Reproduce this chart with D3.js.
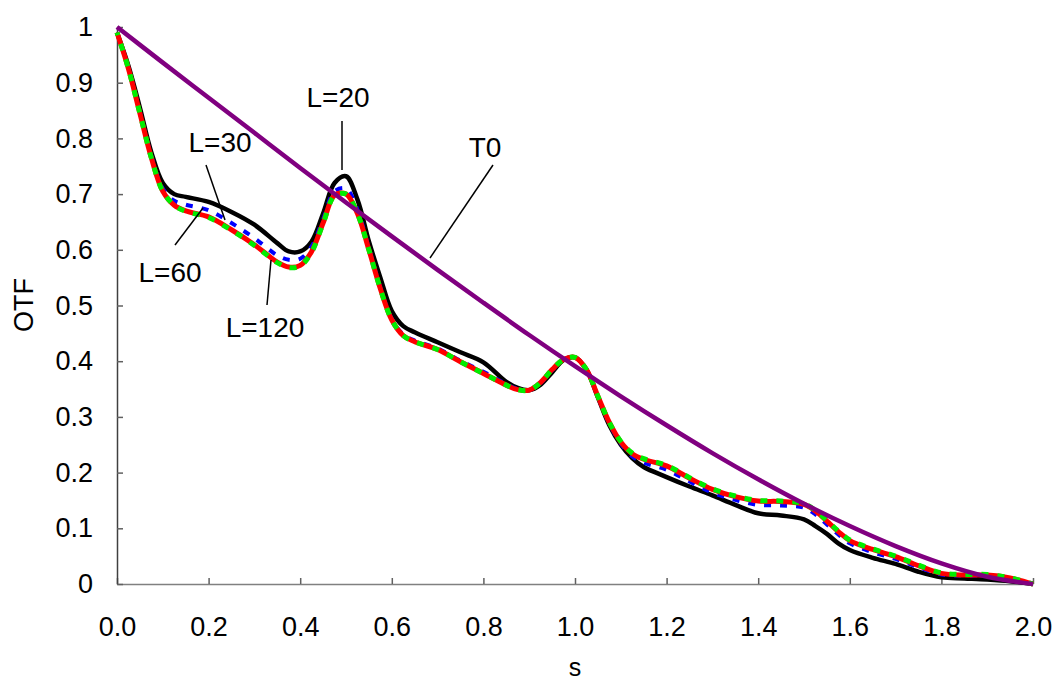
<!DOCTYPE html>
<html><head><meta charset="utf-8">
<script src="https://cdn.jsdelivr.net/npm/d3@7"></script>
<style>body{margin:0;background:#fff}svg{display:block}</style>
</head><body>
<svg id="c" width="1055" height="684"></svg>
<script>
const sVals = [0,0.025,0.05,0.075,0.1,0.125,0.15,0.2,0.25,0.3,0.35,0.375,0.4,0.425,0.45,0.475,0.5,0.525,0.55,0.575,0.6,0.625,0.65,0.7,0.75,0.8,0.85,0.875,0.9,0.925,0.95,0.975,1.0,1.025,1.05,1.075,1.1,1.125,1.15,1.2,1.25,1.3,1.35,1.4,1.45,1.5,1.525,1.55,1.575,1.6,1.65,1.7,1.75,1.8,1.85,1.9,1.95,2.0];
const L20 = [0.99,0.93,0.855,0.775,0.72,0.70,0.695,0.686,0.668,0.645,0.612,0.597,0.597,0.615,0.665,0.72,0.732,0.69,0.615,0.55,0.49,0.463,0.452,0.434,0.416,0.398,0.363,0.352,0.348,0.358,0.38,0.402,0.407,0.385,0.335,0.285,0.25,0.226,0.21,0.192,0.175,0.159,0.142,0.127,0.123,0.116,0.104,0.09,0.073,0.061,0.047,0.036,0.022,0.012,0.010,0.008,0.005,0.0];
const L30 = [0.99,0.926,0.847,0.768,0.71,0.688,0.681,0.671,0.648,0.621,0.59,0.582,0.584,0.606,0.655,0.705,0.71,0.672,0.603,0.532,0.476,0.448,0.437,0.423,0.401,0.381,0.359,0.35,0.348,0.361,0.384,0.403,0.407,0.385,0.336,0.288,0.252,0.229,0.218,0.205,0.184,0.164,0.151,0.142,0.141,0.137,0.125,0.107,0.089,0.073,0.057,0.045,0.03,0.017,0.015,0.015,0.01,0.0];
const L60 = [0.99,0.925,0.845,0.765,0.705,0.68,0.67,0.659,0.636,0.609,0.578,0.569,0.572,0.597,0.648,0.698,0.70,0.665,0.60,0.53,0.474,0.446,0.435,0.421,0.399,0.378,0.357,0.349,0.348,0.362,0.385,0.403,0.407,0.385,0.337,0.29,0.255,0.234,0.224,0.212,0.19,0.17,0.157,0.149,0.148,0.143,0.131,0.113,0.094,0.078,0.062,0.049,0.033,0.019,0.016,0.016,0.011,0.0];
const L120 = [0.99,0.925,0.845,0.765,0.705,0.68,0.669,0.658,0.635,0.608,0.577,0.568,0.571,0.596,0.647,0.697,0.70,0.665,0.60,0.53,0.474,0.446,0.435,0.421,0.399,0.378,0.357,0.349,0.348,0.362,0.385,0.403,0.407,0.385,0.337,0.29,0.256,0.235,0.225,0.213,0.191,0.171,0.158,0.15,0.149,0.144,0.132,0.114,0.095,0.079,0.063,0.05,0.034,0.02,0.017,0.017,0.011,0.0];
const t0S = [0,0.1,0.2,0.3,0.4,0.5,0.6,0.7,0.8,0.9,1.0,1.1,1.2,1.3,1.4,1.5,1.6,1.7,1.8,1.9,2.0];
const T0 = [1.0,0.936,0.873,0.810,0.747,0.685,0.624,0.564,0.505,0.447,0.391,0.337,0.285,0.235,0.188,0.144,0.104,0.068,0.037,0.013,0.0];
const xTicks = [0,0.2,0.4,0.6,0.8,1.0,1.2,1.4,1.6,1.8,2.0];
const yTicks = [0,0.1,0.2,0.3,0.4,0.5,0.6,0.7,0.8,0.9,1];

const svg = d3.select("#c");
const x = d3.scaleLinear().domain([0,2]).range([117,1033]);
const y = d3.scaleLinear().domain([0,1]).range([584,27]);
const font = "'Liberation Sans', Arial, sans-serif";

// axes
const gx = svg.append("g").attr("transform","translate(0,584)")
  .call(d3.axisBottom(x).tickValues(xTicks).tickSizeInner(-6).tickSizeOuter(0).tickPadding(0).tickFormat(d3.format(".1f")));
const gy = svg.append("g").attr("transform","translate(117,0)")
  .call(d3.axisLeft(y).tickValues(yTicks).tickSizeInner(-6).tickSizeOuter(0).tickPadding(24).tickFormat(d => d===0||d===1? String(d) : d3.format(".1f")(d)));
gx.select(".domain").attr("stroke","#808080").attr("stroke-width",1.5);
gy.select(".domain").attr("stroke","#404040").attr("stroke-width",1.5);
[gx,gy].forEach(g=>{
  g.selectAll(".tick line").attr("stroke","#606060").attr("stroke-width",1.5);
  g.selectAll("text").attr("font-family",font).attr("font-size",27).attr("fill","#000");
});
gx.selectAll("text").attr("y",52).attr("dy",null);
gy.selectAll("text").attr("dy","0.32em");

svg.append("text").attr("x",575).attr("y",676).attr("text-anchor","middle")
  .attr("font-family",font).attr("font-size",25).text("s");
svg.append("text").attr("transform","translate(33,305) rotate(-90)").attr("text-anchor","middle")
  .attr("font-family",font).attr("font-size",27).text("OTF");

const line = d3.line().x(d=>x(d[0])).y(d=>y(d[1])).curve(d3.curveCatmullRom.alpha(0.5));
const zip = (a,b)=>a.map((v,i)=>[v,b[i]]);

svg.append("path").attr("d",line(zip(sVals,L20))).attr("fill","none").attr("stroke","#000").attr("stroke-width",4.5);
svg.append("path").attr("d",line(zip(sVals,L30))).attr("fill","none").attr("stroke","#0000ff").attr("stroke-width",4).attr("stroke-dasharray","7,9");
svg.append("path").attr("d",line(zip(sVals,L60))).attr("fill","none").attr("stroke","#ff0000").attr("stroke-width",5);
svg.append("path").attr("d",line(zip(sVals,L120))).attr("fill","none").attr("stroke","#00ee00").attr("stroke-width",5).attr("stroke-dasharray","7,9").attr("stroke-dashoffset",4);
svg.append("path").attr("d",line(zip(t0S,T0))).attr("fill","none").attr("stroke","#800080").attr("stroke-width",4.5);

// annotations
const ann = [
  {t:"L=20", tx:338, ty:107, x1:342, y1:121, x2:342, y2:170},
  {t:"L=30", tx:220, ty:152, x1:206, y1:165, x2:225, y2:220},
  {t:"L=60", tx:170, ty:282, x1:175, y1:245, x2:203, y2:208},
  {t:"L=120", tx:265, ty:337, x1:267, y1:305, x2:271, y2:260},
  {t:"T0", tx:485, ty:157, x1:493, y1:165, x2:430, y2:258}
];
ann.forEach(a=>{
  svg.append("line").attr("x1",a.x1).attr("y1",a.y1).attr("x2",a.x2).attr("y2",a.y2).attr("stroke","#000").attr("stroke-width",1.5);
  svg.append("text").attr("x",a.tx).attr("y",a.ty).attr("text-anchor","middle").attr("font-family",font).attr("font-size",28).text(a.t);
});
</script>
</body></html>
